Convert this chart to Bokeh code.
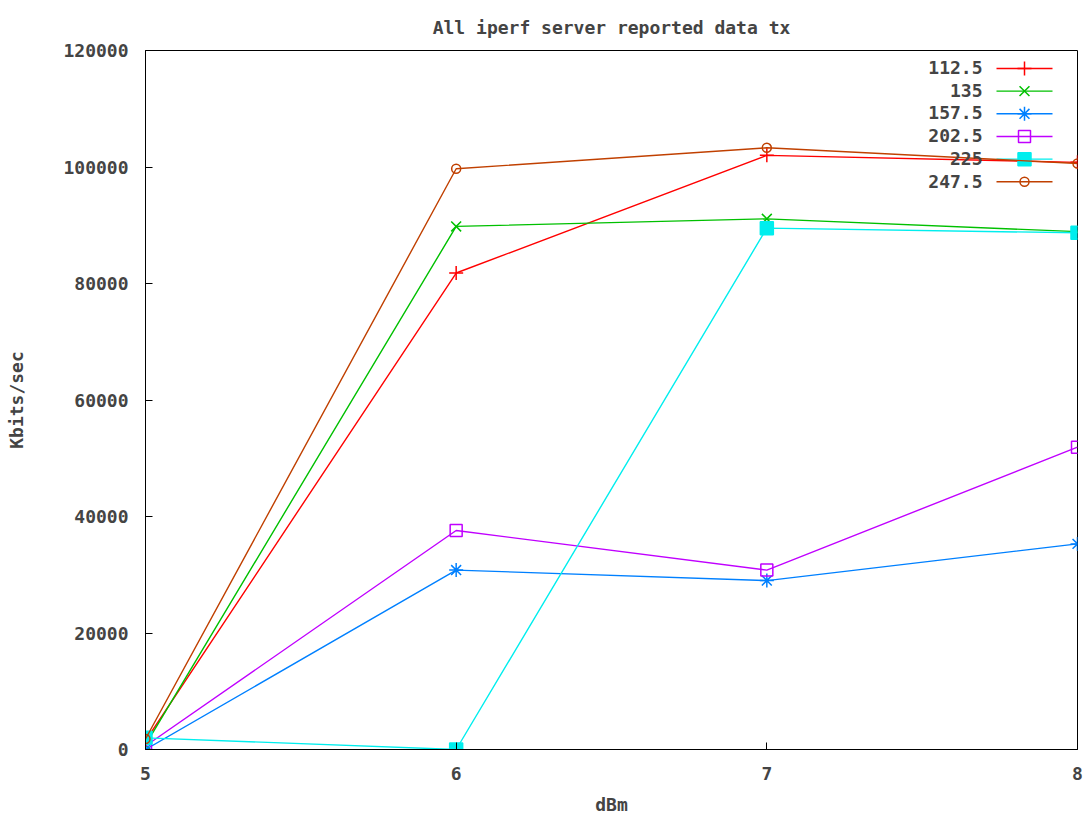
from bokeh.plotting import figure
from bokeh.models import FixedTicker, Range1d, Label, BasicTickFormatter
from bokeh.embed import file_html
from bokeh.resources import INLINE

x_dbm = [5, 6, 7, 8]
series_names = ["112.5", "135", "157.5", "202.5", "225", "247.5"]
s112_5 = [1500, 81800, 102000, 100800]
s135 = [800, 89800, 91100, 88900]
s157_5 = [0, 30800, 29000, 35300]
s202_5 = [600, 37600, 30800, 51900]
s225 = [2000, 0, 89500, 88700]
s247_5 = [1800, 99700, 103300, 100600]
series_values = [s112_5, s135, s157_5, s202_5, s225, s247_5]
x_ticks = [5, 6, 7, 8]
y_ticks = [0, 20000, 40000, 60000, 80000, 100000, 120000]

colors = ["#ff0000", "#00c000", "#0080ff", "#c000ff", "#00eeee", "#c04000"]
markers = ["cross", "x", "asterisk", "square", "square", "circle"]
fills = [False, False, False, False, True, False]
sizes = [14, 14, 14, 12, 13, 9]

FONT = "DejaVu Sans Mono"
FS = "18px"

# layout (pixels)
W, H = 1088, 817
B_LEFT, B_RIGHT, B_TOP, B_BOTTOM = 145, 11, 50, 67
FRAME_W = W - B_LEFT - B_RIGHT
FRAME_H = H - B_TOP - B_BOTTOM
X0, X1, Y0, Y1 = 5, 8, 0, 120000
# legend layout in frame pixels (from frame left / frame top)
LEG_LINE_X0, LEG_LINE_X1 = 851, 907
LEG_TEXT_RIGHT = 837
LEG_ROW0, LEG_ROW_STEP = 18, 22.7

p = figure(width=W, height=H, output_backend="svg", toolbar_location=None,
           x_range=Range1d(X0, X1), y_range=Range1d(Y0, Y1),
           min_border_left=B_LEFT, min_border_right=B_RIGHT,
           min_border_top=B_TOP, min_border_bottom=B_BOTTOM)
p.title.text = "All iperf server reported data tx"
p.title.align = "center"
p.title.vertical_align = "top"
p.title.text_font = FONT
p.title.text_font_size = FS
p.title.text_font_style = "bold"
p.title.standoff = 22
p.grid.visible = False
p.outline_line_color = "black"
p.outline_line_width = 1

for ax in (p.xaxis[0], p.yaxis[0]):
    ax.major_tick_out = 0
    ax.major_tick_in = 7
    ax.minor_tick_in = 0
    ax.minor_tick_out = 0
    ax.major_label_text_font = FONT
    ax.major_label_text_font_size = FS
    ax.major_label_text_font_style = "bold"
    ax.axis_label_text_font = FONT
    ax.axis_label_text_font_size = FS
    ax.axis_label_text_font_style = "bold"
    ax.axis_line_color = "black"
p.xaxis.ticker = FixedTicker(ticks=x_ticks)
p.yaxis.ticker = FixedTicker(ticks=y_ticks)
p.yaxis.formatter = BasicTickFormatter(use_scientific=False)
p.xaxis.axis_label = "dBm"
p.yaxis.axis_label = "Kbits/sec"
p.xaxis.major_label_standoff = 17
p.yaxis.major_label_standoff = 17
p.xaxis.axis_label_standoff = 11
p.yaxis.axis_label_standoff = 33


def fx(px):
    return X0 + (X1 - X0) * px / FRAME_W


def fy(py_from_top):
    return Y1 - (Y1 - Y0) * py_from_top / FRAME_H


for i, (name, vals, c, m, f, s) in enumerate(zip(series_names, series_values, colors,
                                                  markers, fills, sizes)):
    p.line(x_dbm, vals, line_color=c, line_width=1.4)
    p.scatter(x_dbm, vals, marker=m, size=s, line_color=c, line_width=1.5,
              fill_color=c if f else None)
    # legend sample (key) to the right of its label
    row = LEG_ROW0 + LEG_ROW_STEP * i
    ly = fy(row)
    p.segment(x0=[fx(LEG_LINE_X0)], y0=[ly], x1=[fx(LEG_LINE_X1)], y1=[ly],
              line_color=c, line_width=1.4)
    p.scatter(x=[fx((LEG_LINE_X0 + LEG_LINE_X1) / 2)], y=[ly], marker=m, size=s,
              line_color=c, line_width=1.5, fill_color=c if f else None)
    p.add_layout(Label(x=LEG_TEXT_RIGHT, y=FRAME_H - row, x_units="screen", y_units="screen",
                       text=name, text_align="right", text_baseline="middle",
                       text_font=FONT, text_font_size=FS, text_font_style="bold"))

open("out.html", "w").write(file_html(p, INLINE))
